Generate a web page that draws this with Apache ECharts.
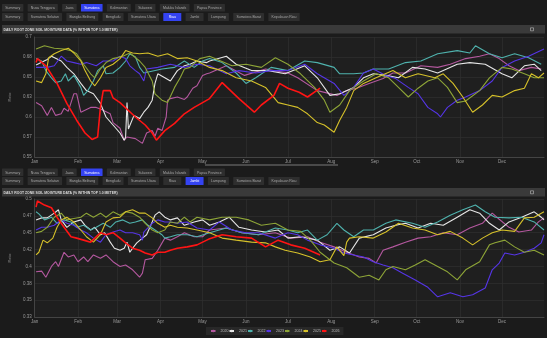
<!DOCTYPE html>
<html>
<head>
<meta charset="utf-8">
<script src="https://cdn.jsdelivr.net/npm/echarts@6/dist/echarts.min.js"></script>
<style>
  html, body { margin: 0; padding: 0; background: #fff; }
  #main { position: absolute; left: 0; top: 0; width: 547px; height: 338px; }
</style>
</head>
<body>
<div id="main"></div>
<script>
// ---- data ----
var years = ['2020', '2021', '2022', '2023', '2024', '2025', '2026'];
var monthNames = ['Jan', 'Feb', 'Mar', 'Apr', 'May', 'Jun', 'Jul', 'Aug', 'Sep', 'Oct', 'Nov', 'Dec'];
var monthDays = [31, 28, 31, 30, 31, 30, 31, 31, 30, 31, 30, 31];
var regionTabs = ['Summary', 'Nusa Tenggara', 'Jawa', 'Sumatera', 'Kalimantan', 'Sulawesi', 'Maluku Islands', 'Papua Province'];
var provinceTabs = ['Summary', 'Sumatera Selatan', 'Bangka Belitung', 'Bengkulu', 'Sumatera Utara', 'Riau', 'Jambi', 'Lampung', 'Sumatera Barat', 'Kepulauan Riau'];
var chartTitle = 'DAILY ROOT ZONE SOIL MOISTURE DATA (% WITHIN TOP 1.0 METER)';
var yAxisName = 'Ratio';

// [day of year, value]
var riau2020 = [[1,0.618],[5,0.614],[9,0.602],[12,0.612],[15,0.602],[19,0.604],[21,0.611],[24,0.607],[28,0.629],[30,0.629],[33,0.606],[40,0.612],[44,0.612],[47,0.610],[54,0.604],[56,0.593],[61,0.586],[64,0.571],[66,0.575],[72,0.573],[77,0.567],[80,0.580],[84,0.583],[86,0.576],[88,0.586],[91,0.583],[94,0.600],[95,0.621],[97,0.623],[102,0.625],[107,0.622],[109,0.625],[113,0.636],[116,0.639],[120,0.652],[123,0.654],[125,0.655],[137,0.664],[150,0.652],[165,0.660],[181,0.655],[188,0.649],[202,0.633],[216,0.627],[223,0.633],[230,0.636],[239,0.642],[249,0.648],[256,0.655],[265,0.655],[276,0.664],[288,0.662],[297,0.666],[308,0.673],[318,0.676],[325,0.679],[332,0.673],[339,0.664],[346,0.658],[355,0.662],[362,0.660]];
var riau2021 = [[1,0.665],[9,0.672],[12,0.676],[19,0.670],[23,0.662],[28,0.654],[33,0.642],[37,0.633],[42,0.629],[47,0.617],[51,0.600],[56,0.590],[61,0.580],[64,0.571],[65,0.575],[66,0.618],[67,0.585],[71,0.602],[75,0.598],[78,0.606],[81,0.612],[84,0.621],[86,0.642],[88,0.654],[93,0.649],[97,0.645],[102,0.658],[107,0.664],[111,0.666],[116,0.670],[123,0.668],[125,0.670],[137,0.676],[144,0.666],[155,0.658],[167,0.658],[179,0.654],[193,0.664],[202,0.649],[211,0.627],[218,0.629],[228,0.637],[235,0.649],[242,0.654],[251,0.652],[260,0.649],[270,0.662],[279,0.660],[288,0.655],[302,0.666],[311,0.668],[322,0.666],[334,0.654],[341,0.649],[350,0.664],[357,0.666],[362,0.658]];
var riau2022 = [[1,0.673],[5,0.670],[8,0.658],[12,0.649],[15,0.643],[19,0.645],[22,0.654],[24,0.645],[28,0.652],[33,0.637],[35,0.627],[38,0.633],[42,0.645],[45,0.658],[49,0.664],[51,0.654],[56,0.655],[61,0.662],[65,0.670],[68,0.679],[72,0.675],[75,0.662],[78,0.655],[91,0.660],[100,0.662],[107,0.670],[114,0.662],[120,0.670],[125,0.673],[134,0.668],[144,0.655],[151,0.642],[158,0.649],[169,0.662],[181,0.658],[193,0.670],[202,0.668],[214,0.662],[218,0.654],[228,0.654],[235,0.655],[242,0.660],[253,0.660],[265,0.668],[276,0.670],[288,0.679],[302,0.683],[311,0.680],[315,0.689],[325,0.679],[334,0.674],[343,0.679],[353,0.674],[362,0.666]];
var riau2023 = [[1,0.662],[9,0.662],[14,0.664],[19,0.676],[23,0.670],[28,0.668],[33,0.666],[37,0.668],[44,0.664],[49,0.670],[56,0.670],[61,0.676],[65,0.673],[68,0.664],[72,0.658],[75,0.654],[78,0.645],[80,0.660],[88,0.662],[97,0.666],[107,0.662],[116,0.666],[125,0.664],[137,0.654],[146,0.658],[158,0.655],[169,0.658],[181,0.658],[193,0.666],[202,0.654],[214,0.642],[221,0.627],[228,0.637],[235,0.655],[242,0.660],[251,0.652],[258,0.648],[267,0.637],[274,0.629],[281,0.612],[288,0.604],[290,0.600],[295,0.612],[302,0.621],[308,0.625],[318,0.633],[327,0.645],[334,0.662],[343,0.670],[353,0.676],[364,0.685]];
var riau2024 = [[1,0.685],[7,0.689],[14,0.686],[21,0.685],[26,0.683],[30,0.679],[35,0.666],[40,0.654],[43,0.649],[47,0.660],[51,0.668],[56,0.673],[63,0.676],[68,0.680],[75,0.670],[79,0.662],[84,0.645],[86,0.629],[91,0.621],[95,0.618],[100,0.637],[104,0.649],[107,0.660],[111,0.662],[118,0.673],[125,0.676],[141,0.664],[151,0.666],[162,0.662],[172,0.674],[181,0.666],[190,0.654],[200,0.637],[207,0.621],[211,0.606],[218,0.615],[225,0.633],[235,0.645],[244,0.654],[253,0.649],[260,0.637],[267,0.625],[274,0.636],[281,0.645],[288,0.649],[295,0.637],[302,0.618],[308,0.620],[318,0.633],[325,0.649],[334,0.662],[341,0.660],[350,0.654],[357,0.649],[364,0.649]];
var riau2025 = [[1,0.645],[5,0.643],[8,0.654],[10,0.674],[14,0.679],[19,0.683],[24,0.686],[28,0.680],[33,0.670],[36,0.658],[40,0.645],[43,0.639],[47,0.649],[51,0.662],[56,0.666],[61,0.673],[65,0.683],[70,0.680],[75,0.679],[81,0.680],[88,0.676],[95,0.679],[102,0.673],[109,0.674],[116,0.670],[125,0.662],[134,0.658],[144,0.649],[155,0.645],[165,0.637],[174,0.618],[181,0.615],[188,0.612],[195,0.604],[202,0.593],[207,0.590],[214,0.581],[218,0.596],[223,0.612],[228,0.633],[235,0.642],[244,0.649],[256,0.658],[265,0.649],[274,0.654],[286,0.649],[292,0.654],[299,0.642],[306,0.625],[313,0.606],[320,0.615],[327,0.627],[334,0.625],[343,0.633],[350,0.636],[355,0.654],[360,0.649],[364,0.655]];
var riau2026 = [[1,0.668],[2,0.673],[8,0.664],[16,0.642],[23,0.617],[30,0.596],[36,0.580],[41,0.572],[45,0.575],[47,0.612],[49,0.633],[54,0.633],[56,0.624],[61,0.618],[72,0.600],[79,0.590],[84,0.580],[87,0.571],[93,0.583],[100,0.592],[107,0.604],[114,0.612],[120,0.618],[125,0.623],[134,0.643],[146,0.623],[157,0.606],[162,0.615],[171,0.627],[175,0.642],[181,0.636],[189,0.631],[195,0.625],[204,0.636]];

var jambi2020 = [[1,0.392],[5,0.393],[8,0.384],[12,0.400],[15,0.407],[17,0.400],[21,0.421],[24,0.414],[28,0.417],[31,0.407],[35,0.414],[38,0.407],[42,0.417],[47,0.412],[51,0.417],[56,0.407],[61,0.400],[65,0.402],[70,0.395],[75,0.384],[77,0.390],[79,0.410],[84,0.412],[88,0.424],[93,0.442],[97,0.439],[102,0.444],[107,0.450],[114,0.444],[120,0.444],[125,0.454],[137,0.457],[148,0.450],[160,0.447],[172,0.450],[183,0.442],[195,0.444],[204,0.436],[214,0.429],[223,0.421],[232,0.414],[239,0.412],[244,0.405],[249,0.424],[256,0.429],[265,0.436],[274,0.442],[283,0.444],[292,0.450],[302,0.447],[311,0.457],[320,0.464],[327,0.479],[332,0.470],[339,0.458],[346,0.451],[355,0.454],[360,0.466],[364,0.472]];
var jambi2021 = [[1,0.469],[5,0.472],[9,0.472],[14,0.479],[17,0.484],[19,0.469],[23,0.458],[28,0.466],[33,0.469],[36,0.461],[40,0.454],[43,0.458],[47,0.447],[50,0.450],[54,0.436],[57,0.427],[61,0.424],[64,0.427],[66,0.436],[68,0.421],[70,0.427],[73,0.435],[77,0.442],[80,0.447],[84,0.466],[86,0.476],[89,0.481],[93,0.473],[97,0.469],[102,0.472],[107,0.461],[114,0.466],[120,0.469],[125,0.461],[132,0.466],[139,0.473],[146,0.458],[155,0.454],[165,0.451],[174,0.454],[181,0.442],[190,0.444],[202,0.439],[211,0.424],[218,0.429],[225,0.420],[232,0.442],[242,0.447],[251,0.457],[258,0.461],[265,0.464],[274,0.457],[283,0.464],[292,0.461],[302,0.473],[311,0.484],[318,0.479],[325,0.464],[332,0.454],[339,0.466],[348,0.473],[357,0.481],[362,0.473],[364,0.469]];
var jambi2022 = [[1,0.481],[3,0.478],[7,0.469],[12,0.473],[16,0.464],[21,0.469],[26,0.466],[30,0.458],[35,0.461],[40,0.454],[44,0.458],[49,0.464],[54,0.458],[58,0.466],[63,0.469],[68,0.464],[72,0.466],[77,0.469],[81,0.461],[86,0.454],[91,0.447],[93,0.442],[97,0.444],[102,0.447],[109,0.447],[116,0.444],[125,0.450],[137,0.457],[148,0.450],[160,0.447],[172,0.457],[181,0.454],[188,0.450],[195,0.454],[202,0.439],[209,0.447],[216,0.464],[221,0.454],[228,0.444],[235,0.454],[242,0.454],[251,0.464],[258,0.469],[270,0.464],[279,0.458],[288,0.466],[297,0.476],[306,0.484],[315,0.491],[322,0.481],[329,0.473],[339,0.472],[348,0.473],[357,0.466],[364,0.454]];
var jambi2023 = [[1,0.454],[5,0.458],[9,0.458],[14,0.461],[19,0.469],[23,0.464],[28,0.461],[33,0.454],[37,0.450],[42,0.442],[47,0.436],[51,0.447],[56,0.451],[61,0.454],[65,0.450],[70,0.450],[75,0.447],[77,0.439],[78,0.451],[84,0.464],[88,0.469],[93,0.466],[97,0.466],[102,0.464],[109,0.466],[116,0.457],[125,0.454],[132,0.466],[141,0.454],[151,0.450],[160,0.450],[172,0.442],[181,0.450],[188,0.447],[195,0.439],[204,0.432],[214,0.427],[221,0.420],[228,0.417],[235,0.414],[242,0.407],[249,0.402],[256,0.398],[263,0.390],[272,0.380],[281,0.369],[288,0.355],[297,0.361],[306,0.355],[313,0.358],[322,0.368],[327,0.395],[332,0.405],[336,0.420],[343,0.417],[350,0.421],[357,0.427],[362,0.435],[364,0.447]];
var jambi2024 = [[1,0.450],[5,0.452],[9,0.458],[14,0.473],[19,0.479],[23,0.469],[28,0.471],[33,0.473],[37,0.479],[42,0.473],[47,0.479],[51,0.473],[56,0.481],[61,0.476],[65,0.481],[70,0.479],[75,0.473],[79,0.464],[84,0.454],[88,0.450],[93,0.454],[97,0.466],[102,0.464],[107,0.473],[111,0.466],[116,0.473],[125,0.469],[134,0.473],[144,0.473],[153,0.469],[162,0.461],[172,0.464],[181,0.454],[190,0.452],[197,0.439],[204,0.421],[214,0.405],[223,0.398],[232,0.384],[239,0.387],[246,0.380],[251,0.395],[256,0.400],[265,0.395],[272,0.402],[279,0.410],[288,0.400],[295,0.392],[302,0.380],[308,0.395],[318,0.407],[325,0.432],[329,0.435],[336,0.439],[343,0.429],[350,0.421],[357,0.424],[364,0.417]];
var jambi2025 = [[1,0.417],[3,0.421],[6,0.439],[9,0.435],[13,0.442],[16,0.458],[19,0.469],[23,0.473],[28,0.466],[33,0.454],[37,0.444],[42,0.436],[47,0.447],[51,0.466],[56,0.472],[61,0.473],[65,0.481],[70,0.484],[75,0.479],[79,0.479],[84,0.472],[88,0.464],[93,0.458],[97,0.461],[102,0.458],[109,0.457],[116,0.454],[125,0.450],[134,0.442],[144,0.439],[155,0.436],[165,0.435],[172,0.429],[179,0.424],[188,0.420],[197,0.414],[204,0.407],[211,0.410],[216,0.429],[221,0.416],[223,0.436],[225,0.442],[232,0.444],[242,0.442],[251,0.451],[260,0.464],[270,0.457],[279,0.454],[288,0.447],[297,0.452],[306,0.442],[313,0.432],[320,0.442],[327,0.450],[334,0.454],[343,0.452],[350,0.472],[357,0.473],[364,0.481]];
var jambi2026 = [[1,0.488],[2,0.497],[7,0.491],[12,0.487],[16,0.473],[21,0.458],[26,0.444],[30,0.442],[35,0.439],[40,0.436],[43,0.442],[47,0.450],[51,0.447],[56,0.450],[61,0.442],[65,0.435],[70,0.427],[75,0.424],[79,0.420],[84,0.417],[88,0.421],[93,0.421],[97,0.424],[102,0.427],[109,0.429],[116,0.432],[123,0.439],[125,0.441],[134,0.447],[144,0.444],[155,0.442],[165,0.429],[174,0.439],[183,0.432],[193,0.427],[204,0.417]];

var riauSeries = [riau2020, riau2021, riau2022, riau2023, riau2024, riau2025, riau2026];
var jambiSeries = [jambi2020, jambi2021, jambi2022, jambi2023, jambi2024, jambi2025, jambi2026];

// ---- styles / layout ----
var yearColors = ['#b4589f', '#e6e6e6', '#4fb2ad', '#5535e6', '#8da437', '#d6c12a', '#ff1414'];
var FONT = '"Liberation Sans", Arial, sans-serif';

var dayLabels = [];
var monthStarts = {};
monthNames.forEach(function (m, i) {
    monthStarts[dayLabels.length] = true;
    for (var d = 1; d <= monthDays[i]; d++) dayLabels.push(m + ' ' + d);
});
function isMonthStart(index) { return !!monthStarts[index]; }

var measureCtx = document.createElement('canvas').getContext('2d');
function textWidth(s, size, weight) {
    measureCtx.font = (weight || 'normal') + ' ' + size + 'px ' + FONT;
    return measureCtx.measureText(s).width;
}

function tabRow(names, active, y, h, minW) {
    var els = [], x = 2;
    names.forEach(function (n) {
        var w = Math.max(textWidth(n, 3.5) + 6.4, minW);
        var on = n === active;
        els.push({ type: 'rect', shape: { x: x, y: y, width: w, height: h, r: 0.5 },
            style: { fill: on ? '#3443f2' : '#2e2e2e' }, z: 1 });
        els.push({ type: 'text', z: 2, style: { text: n, x: x + w / 2, y: y + h / 2 + 0.3,
            align: 'center', verticalAlign: 'middle', textAlign: 'center', textVerticalAlign: 'middle',
            font: '3.5px ' + FONT, fill: on ? '#ffffff' : '#a8a8a8' } });
        x += w + 4.3;
    });
    return els;
}

function titleBar(y) {
    return [
        { type: 'rect', z: 1, shape: { x: 2, y: y, width: 543, height: 8.5 }, style: { fill: '#3a3a3a' } },
        { type: 'text', z: 2, style: { text: chartTitle, x: 3.5, y: y + 4.6, verticalAlign: 'middle', textVerticalAlign: 'middle',
            font: 'bold 3.4px ' + FONT, fill: '#dcdcdc' } },
        { type: 'rect', z: 2, shape: { x: 530.5, y: y + 2.8, width: 3, height: 3 },
            style: { fill: 'none', stroke: '#bdbdbd', lineWidth: 0.6 } }
    ];
}

var graphics = []
    .concat(tabRow(regionTabs, 'Sumatera', 4, 7.5, 0))
    .concat(tabRow(provinceTabs, 'Riau', 13, 8, 18))
    .concat(titleBar(25))
    .concat([{ type: 'rect', z: 1, shape: { x: 205, y: 164.5, width: 133, height: 1 }, style: { fill: '#7a7a7a' } }])
    .concat(tabRow(regionTabs, 'Sumatera', 168.5, 7.5, 0))
    .concat(tabRow(provinceTabs, 'Jambi', 177, 8, 18))
    .concat(titleBar(188));

function yLabel(v) { return String(parseFloat(v.toFixed(2))); }

function xAxisFor(i) {
    return {
        type: 'category', gridIndex: i, data: dayLabels, boundaryGap: false,
        axisLine: { lineStyle: { color: '#444' } },
        axisTick: { show: false },
        axisLabel: { interval: isMonthStart, formatter: function (v) { return v.split(' ')[0]; },
            color: '#9a9a9a', fontSize: 4.5, fontFamily: FONT, margin: 2.5 },
        splitLine: { show: true, interval: isMonthStart, lineStyle: { color: '#2f2f2f', width: 0.7 } }
    };
}
function yAxisFor(i, min, max) {
    return {
        type: 'value', gridIndex: i, min: min, max: max, interval: 0.025,
        name: yAxisName, nameLocation: 'middle', nameGap: 13,
        nameTextStyle: { color: '#8a8a8a', fontSize: 3.8, fontFamily: FONT },
        axisLine: { show: true, lineStyle: { color: '#444' } },
        axisTick: { show: false },
        axisLabel: { formatter: yLabel, color: '#9a9a9a', fontSize: 4.5, fontFamily: FONT, margin: 3 },
        splitLine: { lineStyle: { color: '#2f2f2f', width: 0.7 } }
    };
}

var series = [];
[riauSeries, jambiSeries].forEach(function (set, g) {
    set.forEach(function (data, k) {
        series.push({
            type: 'line', name: years[k], xAxisIndex: g, yAxisIndex: g, data: data,
            symbol: 'none', smooth: false,
            lineStyle: { color: yearColors[k], width: k === 6 ? 1.6 : 1.1 },
            itemStyle: { color: yearColors[k] }
        });
    });
});

var chart = echarts.init(document.getElementById('main'));
chart.setOption({
    animation: false,
    backgroundColor: '#1b1b1b',
    grid: [
        { left: 20, top: 37, width: 524, height: 120, show: true, backgroundColor: '#1f1f1f', borderWidth: 0 },
        { left: 20, top: 199, width: 524, height: 118, show: true, backgroundColor: '#1f1f1f', borderWidth: 0 }
    ],
    xAxis: [xAxisFor(0), xAxisFor(1)],
    yAxis: [yAxisFor(0, 0.55, 0.7), yAxisFor(1, 0.325, 0.5)],
    legend: {
        data: years, left: 206, top: 327, itemWidth: 4.5, itemHeight: 3, itemGap: 0,
        padding: [2, 4], backgroundColor: '#282828',
        textStyle: { color: '#bbbbbb', fontSize: 3.6, fontFamily: FONT }
    },
    graphic: graphics,
    series: series
});
</script>
</body>
</html>
